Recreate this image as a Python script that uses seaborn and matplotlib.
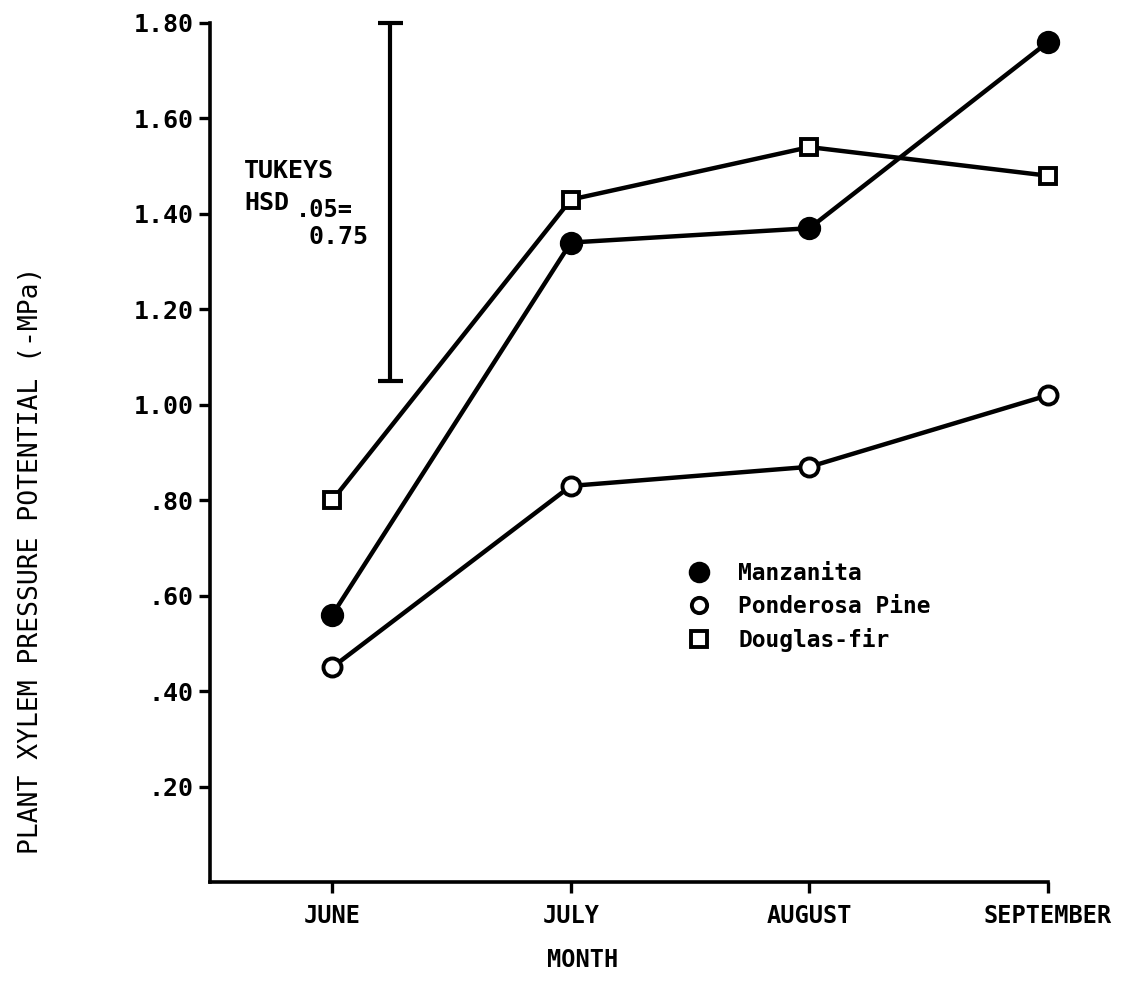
import matplotlib
matplotlib.use("Agg")
import matplotlib.pyplot as plt
import seaborn as sns
import pandas as pd
from matplotlib.lines import Line2D

# ---- data ----
months = ["JUNE", "JULY", "AUGUST", "SEPTEMBER"]
manzanita = [0.56, 1.34, 1.37, 1.76]
ponderosa = [0.45, 0.83, 0.87, 1.02]
douglas = [0.80, 1.43, 1.54, 1.48]
series_names = ["Manzanita", "Ponderosa Pine", "Douglas-fir"]
y_ticks = [0.20, 0.40, 0.60, 0.80, 1.00, 1.20, 1.40, 1.60, 1.80]
y_tick_labels = [".20", ".40", ".60", ".80", "1.00", "1.20", "1.40", "1.60", "1.80"]
hsd_value = 0.75
hsd_top = 1.80

sns.set_theme(style="white")
plt.rcParams["font.family"] = ["DejaVu Sans Mono", "DejaVu Sans"]
plt.rcParams["text.color"] = "black"
plt.rcParams["axes.labelcolor"] = "black"
plt.rcParams["xtick.color"] = "black"
plt.rcParams["ytick.color"] = "black"

fig = plt.figure(figsize=(11.22, 10.01), dpi=100)
ax = fig.add_axes([210 / 1122, 119 / 1001, 838 / 1122, 859 / 1001])

df = pd.DataFrame({
    "month": months * 3,
    "value": manzanita + ponderosa + douglas,
    "species": [series_names[0]] * 4 + [series_names[1]] * 4 + [series_names[2]] * 4,
})

styles = {
    "Manzanita": dict(marker="o", mfc="black", ms=14),
    "Ponderosa Pine": dict(marker="o", mfc="white", ms=13),
    "Douglas-fir": dict(marker="s", mfc="white", ms=12),
}

for name in series_names:
    sub = df[df["species"] == name]
    st = styles[name]
    sns.lineplot(data=sub, x="month", y="value", ax=ax, color="black", lw=3.2,
                 marker=st["marker"], markersize=st["ms"], markerfacecolor=st["mfc"],
                 markeredgecolor="black", markeredgewidth=2.8, sort=False,
                 clip_on=False, zorder=3)

# Tukey HSD bar
ax.errorbar([0.24], [hsd_top - hsd_value / 2], yerr=[hsd_value / 2], color="black",
            lw=3, capsize=9, capthick=3, clip_on=False)
ax.text(-0.37, 1.475, "TUKEYS", fontsize=18, fontweight="bold", ha="left", va="baseline")
ax.text(-0.37, 1.408, "HSD", fontsize=18, fontweight="bold", ha="left", va="baseline")
ax.text(-0.155, 1.394, ".05=", fontsize=17, fontweight="bold", ha="left", va="baseline")
ax.text(-0.10, 1.337, f"{hsd_value:.2f}", fontsize=18, fontweight="bold", ha="left", va="baseline")

# axes styling
ax.set_xlim(-0.513, 3.0)
ax.set_ylim(0, 1.80)
ax.set_yticks(y_ticks)
ax.set_yticklabels(y_tick_labels)
ax.set_xticks(range(len(months)))
ax.set_xticklabels(months)
for s in ["top", "right"]:
    ax.spines[s].set_visible(False)
for s in ["left", "bottom"]:
    ax.spines[s].set_linewidth(2.6)
    ax.spines[s].set_color("black")
ax.tick_params(axis="both", direction="out", length=8, width=2.4, color="black",
               left=True, bottom=True)
ax.tick_params(axis="y", labelsize=18, pad=4)
ax.tick_params(axis="x", labelsize=17, pad=8)
for lab in ax.get_yticklabels() + ax.get_xticklabels():
    lab.set_fontweight("bold")
ax.set_xlabel("MONTH", fontsize=17, fontweight="bold")
ax.xaxis.set_label_coords(0.445, -0.077)
ax.set_ylabel("PLANT XYLEM PRESSURE POTENTIAL (-MPa)", fontsize=19)
ax.yaxis.set_label_coords(-0.214, 0.375)
ax.yaxis.label.set_va("center")
ax.grid(False)

handles = [
    Line2D([], [], ls="none", marker="o", mfc="black", mec="black", ms=13, mew=2.5),
    Line2D([], [], ls="none", marker="o", mfc="white", mec="black", ms=11, mew=2.8),
    Line2D([], [], ls="none", marker="s", mfc="white", mec="black", ms=11, mew=2.8),
]
leg = ax.legend(handles, series_names, loc="upper left", bbox_to_anchor=(0.543, 0.397),
                frameon=False, handletextpad=1.1, labelspacing=0.45, handlelength=1.2,
                prop={"family": "DejaVu Sans Mono", "weight": "bold", "size": 16.5})

fig.savefig("out.png", dpi=100, facecolor="white")
